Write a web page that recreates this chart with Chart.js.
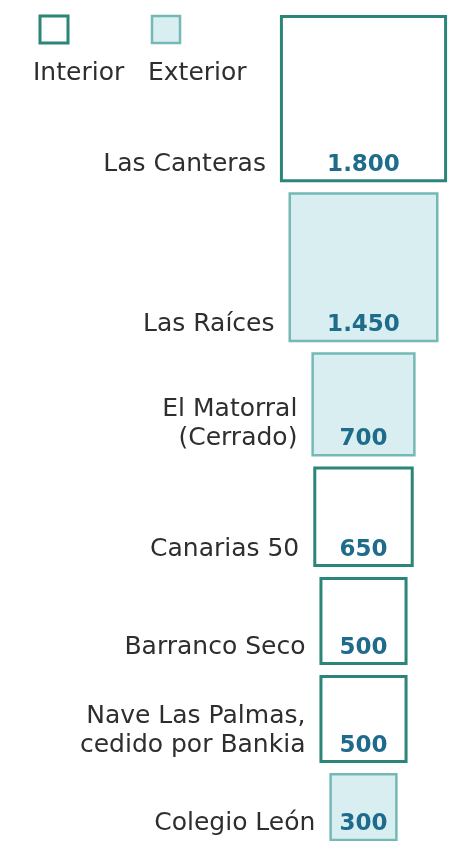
<!DOCTYPE html>
<html>
<head>
<meta charset="utf-8">
<script src="https://cdn.jsdelivr.net/npm/chart.js@4"></script>
<style>
	html, body { margin: 0; padding: 0; background: #fff; }
	#contenedor { width: 459px; height: 841px; position: relative; }
</style>
</head>
<body>
<div id="contenedor"><canvas id="graficoPlazas"></canvas></div>
<script>
// datos del grafico
var categorias = ['Las Canteras', 'Las Raíces', ['El Matorral', '(Cerrado)'], 'Canarias 50', 'Barranco Seco', ['Nave Las Palmas,', 'cedido por Bankia'], 'Colegio León'];
var plazas = [1800, 1450, 700, 650, 500, 500, 300];
var tipos = ['Interior', 'Exterior', 'Exterior', 'Interior', 'Interior', 'Interior', 'Exterior'];
var leyenda = ['Interior', 'Exterior'];

// disposicion (unidades de los ejes = pixeles)
var ESCALA = 3.94;   // lado del cuadrado por raiz de plazas
var HUECO = 10;
var Y_INICIO = 15;
var X_CENTRO = 363.5;

var estilos = {
	'Interior': { fondo: '#ffffff', borde: '#2b8579', ancho: 3 },
	'Exterior': { fondo: '#d8eef0', borde: '#74b9b5', ancho: 2.5 }
};

var lados = plazas.map(function(v) { return ESCALA * Math.sqrt(v); });
var centros = [];
var y = Y_INICIO;
lados.forEach(function(s) {
	centros.push(y + s / 2);
	y += s + HUECO;
});

function formato(n) {
	return String(n).replace(/\B(?=(\d{3})+(?!\d))/g, '.');
}

function pxPorUnidad(chart) {
	var x = chart.scales.x;
	var d = x ? Math.abs(x.getPixelForValue(1) - x.getPixelForValue(0)) : 1;
	return isFinite(d) && d > 0 ? d : 1;
}

var datasets = leyenda.map(function(tipo) {
	var puntos = [];
	tipos.forEach(function(t, i) {
		if (t === tipo) puntos.push({ x: X_CENTRO, y: centros[i], i: i });
	});
	var e = estilos[tipo];
	return {
		label: tipo,
		data: puntos,
		pointStyle: 'rect',
		backgroundColor: e.fondo,
		borderColor: e.borde,
		borderWidth: e.ancho,
		pointRadius: function(ctx) {
			if (!ctx.raw) return 0;
			var s = lados[ctx.raw.i] * pxPorUnidad(ctx.chart);
			return (s - e.ancho) / 2 * Math.SQRT2;
		}
	};
});

var FUENTE = '"DejaVu Sans", sans-serif';

var textos = {
	id: 'textos',
	afterDatasetsDraw: function(chart) {
		var ctx = chart.ctx;
		var sx = chart.scales.x, sy = chart.scales.y;
		var k = pxPorUnidad(chart);
		ctx.save();
		ctx.textBaseline = 'alphabetic';
		categorias.forEach(function(cat, i) {
			var cx = sx.getPixelForValue(X_CENTRO);
			var cy = sy.getPixelForValue(centros[i]);
			var mitad = lados[i] * k / 2;
			var base = cy + mitad - 11;
			// valor
			ctx.font = 'bold 23px ' + FUENTE;
			ctx.fillStyle = '#1e6b8c';
			ctx.textAlign = 'center';
			ctx.fillText(formato(plazas[i]), cx, base);
			// etiqueta
			ctx.font = '25px ' + FUENTE;
			ctx.fillStyle = '#2e2e2e';
			ctx.textAlign = 'right';
			var lineas = Array.isArray(cat) ? cat : [cat];
			lineas.forEach(function(l, j) {
				ctx.fillText(l, cx - mitad - 14, base - (lineas.length - 1 - j) * 29);
			});
		});
		// leyenda
		var posLeyenda = [{ caja: 40, texto: 33 }, { caja: 152, texto: 148 }];
		leyenda.forEach(function(tipo, j) {
			var e = estilos[tipo];
			ctx.fillStyle = e.fondo;
			ctx.strokeStyle = e.borde;
			ctx.lineWidth = e.ancho;
			ctx.fillRect(posLeyenda[j].caja, 16, 28, 27);
			ctx.strokeRect(posLeyenda[j].caja, 16, 28, 27);
			ctx.font = '25px ' + FUENTE;
			ctx.fillStyle = '#2e2e2e';
			ctx.textAlign = 'left';
			ctx.fillText(tipo, posLeyenda[j].texto, 80);
		});
		ctx.restore();
	}
};

var grafico = new Chart(document.getElementById('graficoPlazas'), {
	type: 'scatter',
	data: { datasets: datasets },
	options: {
		responsive: true,
		maintainAspectRatio: false,
		animation: false,
		events: [],
		layout: { padding: 0, autoPadding: false },
		plugins: { legend: { display: false }, tooltip: { enabled: false } },
		scales: {
			x: { type: 'linear', min: 0, max: 459, display: false },
			y: { type: 'linear', min: 0, max: 841, reverse: true, display: false }
		}
	},
	plugins: [textos]
});
</script>
</body>
</html>
